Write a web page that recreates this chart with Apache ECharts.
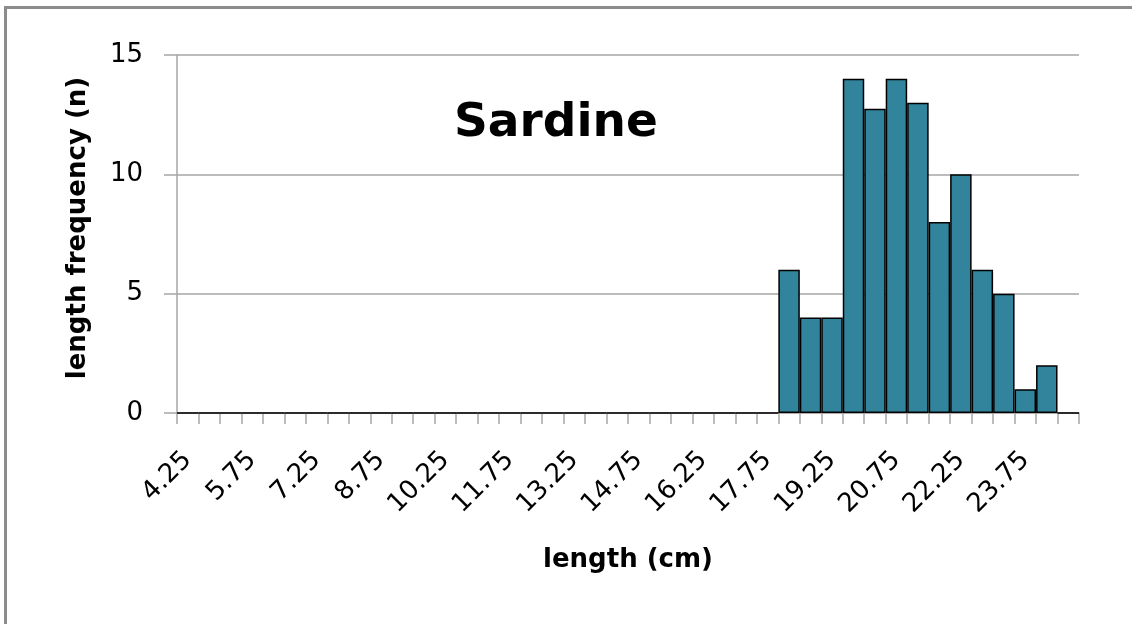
<!DOCTYPE html>
<html>
<head>
<meta charset="utf-8">
<script src="https://cdn.jsdelivr.net/npm/echarts@6/dist/echarts.min.js"></script>
<style>
html,body{margin:0;padding:0;background:#fff;}
#chart{width:1132px;height:624px;}
</style>
</head>
<body>
<div id="chart"></div>
<script>
// Bin labels (cm), one per bar slot
const categories = ['4.25','4.75','5.25','5.75','6.25','6.75','7.25','7.75','8.25','8.75',
  '9.25','9.75','10.25','10.75','11.25','11.75','12.25','12.75','13.25','13.75',
  '14.25','14.75','15.25','15.75','16.25','16.75','17.25','17.75','18.25','18.75',
  '19.25','19.75','20.25','20.75','21.25','21.75','22.25','22.75','23.25','23.75',
  '24.25','24.75'];
// Frequency per bin
const frequency = [0,0,0,0,0,0,0,0,0,0,
  0,0,0,0,0,0,0,0,0,0,
  0,0,0,0,0,0,0,0,6,4,
  4,14,12.75,14,13,8,10,6,5,1,
  2,0];
const yTicks = [0, 5, 10, 15];
const chartTitle = 'Sardine';
const xTitle = 'length (cm)';
const yTitle = 'length frequency (n)';

const chart = echarts.init(document.getElementById('chart'), null, {renderer:'canvas'});
const gridColor = '#a6a6a6';
chart.setOption({
  animation: false,
  backgroundColor: '#ffffff',
  title: {
    text: chartTitle,
    left: 449,
    top: 95,
    textStyle: {fontFamily: 'DejaVu Sans', fontWeight: 'bold', fontSize: 47, color: '#000'}
  },
  graphic: [
    {type: 'rect', left: 4, top: 6, shape: {width: 1128, height: 3}, style: {fill: '#8c8c8c'}, silent: true},
    {type: 'rect', left: 4, top: 6, shape: {width: 3, height: 618}, style: {fill: '#8c8c8c'}, silent: true}
  ],
  grid: {left: 177, right: 53, top: 55, bottom: 211, containLabel: false},
  xAxis: {
    type: 'category',
    data: categories,
    boundaryGap: true,
    name: xTitle,
    nameLocation: 'middle',
    nameGap: 134,
    nameTextStyle: {fontFamily: 'DejaVu Sans', fontWeight: 'bold', fontSize: 26, color: '#000'},
    axisLine: {show: true, lineStyle: {color: gridColor, width: 1.5}},
    axisTick: {show: true, interval: 0, length: 11, alignWithLabel: false, lineStyle: {color: gridColor, width: 1.5}},
    axisLabel: {interval: 2, rotate: 45, margin: 43, fontFamily: 'DejaVu Sans', fontSize: 26, color: '#000'},
    splitLine: {show: false}
  },
  yAxis: {
    type: 'value',
    min: yTicks[0],
    max: yTicks[yTicks.length - 1],
    interval: yTicks[1] - yTicks[0],
    name: yTitle,
    nameLocation: 'middle',
    nameGap: 86,
    nameRotate: 90,
    nameTextStyle: {fontFamily: 'DejaVu Sans', fontWeight: 'bold', fontSize: 26, color: '#000', padding: [0, 0, 0, 12]},
    axisLine: {show: true, lineStyle: {color: gridColor, width: 1.5}},
    axisTick: {show: true, length: 13, lineStyle: {color: gridColor, width: 1.5}},
    axisLabel: {margin: 34, fontFamily: 'DejaVu Sans', fontSize: 26, color: '#000'},
    splitLine: {show: true, lineStyle: {color: gridColor, width: 1.5}}
  },
  series: [{
    type: 'bar',
    data: frequency,
    barCategoryGap: '0%',
    itemStyle: {color: '#31849b', borderColor: '#000000', borderWidth: 1.5}
  }]
});
</script>
</body>
</html>
